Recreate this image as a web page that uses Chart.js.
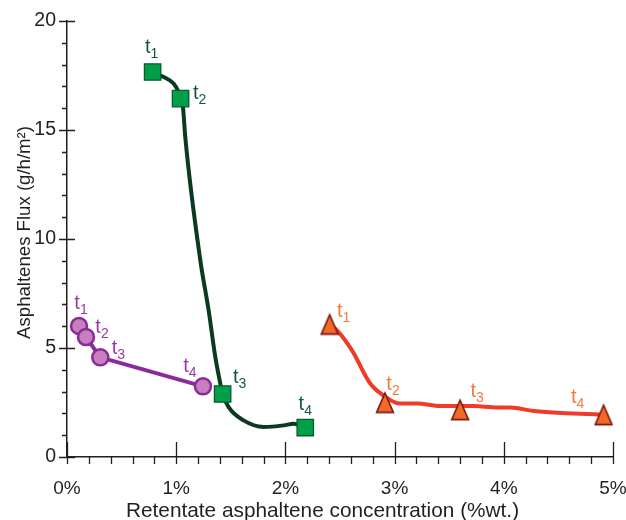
<!DOCTYPE html>
<html>
<head>
<meta charset="utf-8">
<script src="https://cdn.jsdelivr.net/npm/chart.js@4/dist/chart.umd.min.js"></script>
<style>
  html, body { margin: 0; padding: 0; background: #ffffff; }
  #wrap { width: 626px; height: 520px; }
</style>
</head>
<body>
<div id="wrap"><canvas id="c" width="626" height="520"></canvas></div>
<script>
// ---------- data ----------
const xTickLabels = ['0%', '1%', '2%', '3%', '4%', '5%'];
const yTickLabels = ['0', '5', '10', '15', '20'];
const pointNames = ['1', '2', '3', '4'];

// green squares (measured points) and their fitted curve
const greenX = [0.784, 1.040, 1.425, 2.182];
const greenY = [17.66, 16.44, 2.89, 1.35];
const greenCurveX = [0.784, 0.885, 0.976, 1.022, 1.040, 1.062, 1.083, 1.221, 1.297, 1.358, 1.404, 1.425, 1.480, 1.617, 1.800, 1.984, 2.075, 2.182];
const greenCurveY = [17.66, 17.43, 17.13, 16.74, 16.44, 16.06, 14.68, 9.02, 6.73, 4.59, 3.37, 2.89, 2.29, 1.68, 1.38, 1.45, 1.53, 1.35];

// purple circles
const purpleX = [0.110, 0.174, 0.305, 1.245];
const purpleY = [6.01, 5.50, 4.57, 3.24];

// orange triangles and their red line
const redX = [2.405, 2.912, 3.600, 4.914];
const redY = [6.08, 2.49, 2.16, 1.93];
const redCurveX = [2.405, 2.473, 2.610, 2.777, 2.896, 3.052, 3.205, 3.419, 3.723, 3.938, 4.060, 4.273, 4.914];
const redCurveY = [6.08, 5.81, 4.89, 3.37, 2.83, 2.45, 2.45, 2.34, 2.34, 2.27, 2.27, 2.11, 1.93];

const xTitle = 'Retentate asphaltene concentration (%wt.)';
const yTitle = 'Asphaltenes Flux (g/h/m²)';

// ---------- helpers ----------
const pts = (xs, ys) => xs.map((x, i) => ({ x: x, y: ys[i] }));
const INK = '#231f20';
const FONT = '"Liberation Sans", Arial, Helvetica, sans-serif';

function triangleImage(fill, stroke) {
  const c = document.createElement('canvas');
  c.width = 20; c.height = 24;
  const g = c.getContext('2d');
  g.beginPath();
  g.moveTo(10, 2.2);
  g.lineTo(18.4, 21.6);
  g.lineTo(1.6, 21.6);
  g.closePath();
  g.fillStyle = fill;
  g.fill();
  g.lineWidth = 1.6;
  g.lineJoin = 'miter';
  g.strokeStyle = stroke;
  g.stroke();
  return c;
}

// label styling per series (offsets in px from each marker)
const labelSets = [
  { dataset: 1, color: '#12583a', dx: [-1, 19, 17, 0], dy: [-23, -4, -15, -22] },
  { dataset: 3, color: '#9a3aa3', dx: [2, 16, 18, -13], dy: [-21, -8, -7, -18] },
  { dataset: 5, color: '#f47a3c', dx: [14, 8, 17, -26], dy: [-11, -17, -17, -16] }
];

const tLabelPlugin = {
  id: 'tLabels',
  afterDatasetsDraw(chart) {
    const ctx = chart.ctx;
    ctx.save();
    labelSets.forEach(set => {
      const meta = chart.getDatasetMeta(set.dataset);
      meta.data.forEach((el, i) => {
        const cx = el.x + set.dx[i];
        const cy = el.y + set.dy[i];
        ctx.fillStyle = set.color;
        ctx.textBaseline = 'alphabetic';
        ctx.textAlign = 'left';
        ctx.font = '20px ' + FONT;
        const tw = ctx.measureText('t').width;
        ctx.font = '14px ' + FONT;
        const sw = ctx.measureText(pointNames[i]).width;
        const x0 = cx - (tw + sw) / 2;
        ctx.font = '20px ' + FONT;
        ctx.fillText('t', x0, cy + 4);
        ctx.font = '14px ' + FONT;
        ctx.fillText(pointNames[i], x0 + tw, cy + 9);
      });
    });
    ctx.restore();
  }
};

const axisTickPlugin = {
  id: 'axisTicks',
  afterDraw(chart) {
    const { ctx, scales: { x, y } } = chart;
    const yb = y.getPixelForValue(0);
    const xl = x.getPixelForValue(0);
    ctx.save();
    ctx.strokeStyle = INK;
    ctx.lineWidth = 1.3;
    ctx.beginPath();
    for (let k = 0; k <= 25; k++) {
      const v = k * 0.2;
      const px = Math.round(x.getPixelForValue(v)) + 0.5;
      if (k % 5 === 0) { ctx.moveTo(px, yb - 15); ctx.lineTo(px, yb + 7); }
      else { ctx.moveTo(px, yb); ctx.lineTo(px, yb + 7); }
    }
    for (let k = 0; k <= 20; k++) {
      const py = Math.round(y.getPixelForValue(k)) + 0.5;
      if (k % 5 === 0) { ctx.moveTo(xl - 8, py); ctx.lineTo(xl + 8, py); }
      else { ctx.moveTo(xl - 5, py); ctx.lineTo(xl, py); }
    }
    ctx.stroke();

    // axis titles
    ctx.fillStyle = INK;
    ctx.textBaseline = 'alphabetic';
    ctx.textAlign = 'center';
    ctx.font = '20.8px ' + FONT;
    ctx.fillText(xTitle, x.getPixelForValue(2.34), 516.5);
    ctx.save();
    ctx.translate(30, y.getPixelForValue(10.3));
    ctx.rotate(-Math.PI / 2);
    ctx.font = '18.6px ' + FONT;
    ctx.fillText(yTitle, 0, 0);
    ctx.restore();
    ctx.restore();
  }
};

const ctx = document.getElementById('c').getContext('2d');
new Chart(ctx, {
  type: 'scatter',
  data: {
    datasets: [
      { label: 'green curve', data: pts(greenCurveX, greenCurveY), showLine: true, order: 3,
        borderColor: '#0b3a20', borderWidth: 4, pointRadius: 0, pointHoverRadius: 0,
        cubicInterpolationMode: 'monotone', fill: false },
      { label: 'green', data: pts(greenX, greenY), showLine: false, order: 0,
        pointStyle: 'rect', pointRadius: 11.6, pointHoverRadius: 11.6,
        backgroundColor: '#00a04b', borderColor: '#0a5a30', borderWidth: 1.3 },
      { label: 'purple line', data: pts(purpleX, purpleY), showLine: true, order: 3,
        borderColor: '#8a2b9a', borderWidth: 4, pointRadius: 0, pointHoverRadius: 0, tension: 0 },
      { label: 'purple', data: pts(purpleX, purpleY), showLine: false, order: 1,
        pointStyle: 'circle', pointRadius: 8, pointHoverRadius: 8,
        backgroundColor: '#c77fbf', borderColor: '#8a2b9a', borderWidth: 2.5 },
      { label: 'red line', data: pts(redCurveX, redCurveY), showLine: true, order: 3,
        borderColor: '#ef3b2a', borderWidth: 4, pointRadius: 0, pointHoverRadius: 0,
        cubicInterpolationMode: 'monotone' },
      { label: 'orange', data: pts(redX, redY), showLine: false, order: 0,
        pointStyle: triangleImage('#f26a24', '#7a1712'), pointRadius: 10,
        backgroundColor: '#f26a24', borderColor: '#7a1712' }
    ]
  },
  options: {
    responsive: false,
    animation: false,
    devicePixelRatio: 1,
    layout: { padding: { top: 21, right: 13, left: 0, bottom: 0 } },
    plugins: { legend: { display: false }, tooltip: { enabled: false } },
    scales: {
      x: {
        type: 'linear', min: 0, max: 5,
        grid: { display: false, drawTicks: false },
        border: { display: true, color: INK, width: 1.5 },
        ticks: { stepSize: 1, padding: 20, color: INK, font: { family: FONT, size: 19 },
                 callback: (v) => xTickLabels[Math.round(v)] },
        title: { display: false, text: xTitle },
        afterFit: (s) => { s.height = 63; s.paddingLeft = 0; s.paddingRight = 0; }
      },
      y: {
        type: 'linear', min: 0, max: 20,
        grid: { display: false, drawTicks: false },
        border: { display: true, color: INK, width: 1.5 },
        ticks: { stepSize: 5, padding: 11, color: INK, font: { family: FONT, size: 19.5 },
                 callback: (v) => yTickLabels[Math.round(v / 5)] },
        title: { display: false, text: yTitle },
        afterFit: (s) => { s.width = 67; s.paddingTop = 0; s.paddingBottom = 0; }
      }
    }
  },
  plugins: [axisTickPlugin, tLabelPlugin]
});
</script>
</body>
</html>
